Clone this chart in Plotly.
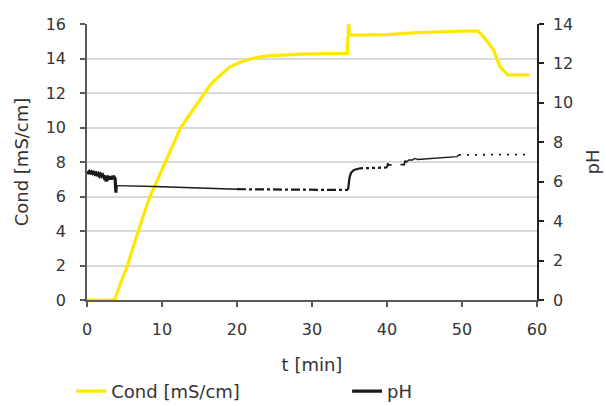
import plotly.graph_objects as go

# Conductivity readings: time [min] and conductivity [mS/cm]
cond_t = [0, 3.7, 4.5, 5.4, 6.1, 6.8, 7.6, 8.4, 9.4, 10.5, 11.5, 12.5, 14.1,
          15.7, 16.5, 17.7, 19.0, 20.5, 22.0, 24.0, 28.4, 34.7, 34.8, 34.9,
          35.0, 35.2, 40.0, 44.0, 49.3, 52.1, 53.0, 54.2, 55.1, 56.1, 59.0]
cond_v = [0, 0, 1.0, 2.0, 3.0, 4.0, 5.0, 6.0, 7.0, 8.0, 9.0, 10.0, 11.0,
          12.0, 12.5, 13.0, 13.5, 13.8, 14.0, 14.15, 14.25, 14.3, 15.0, 16.0,
          15.4, 15.35, 15.38, 15.5, 15.58, 15.6, 15.2, 14.5, 13.5, 13.05, 13.05]

# pH readings: time [min] and pH
ph_t = [0.0, 0.15, 0.3, 0.45, 0.6, 0.75, 0.9, 1.05, 1.2, 1.35, 1.5, 1.65, 1.8,
        1.95, 2.1, 2.25, 2.4, 2.55, 2.7, 2.85, 3.0, 3.15, 3.3, 3.45, 3.6, 3.75,
        3.85, 3.9, 4.0, 6.0, 9.0, 12.0, 15.0, 20.0, 25.0, 30.0, 34.8, 34.9,
        35.0, 35.2, 35.6, 36.4, 40.0, 40.1, 40.2, 42.3, 42.4, 42.6, 42.9,
        43.4, 43.7, 44.1, 49.3, 49.6, 59.0]
ph_v = [6.40, 6.48, 6.52, 6.45, 6.50, 6.42, 6.47, 6.38, 6.44, 6.36, 6.42, 6.30,
        6.38, 6.28, 6.34, 6.22, 6.30, 6.02, 6.30, 6.18, 6.26, 6.12, 6.28, 6.20,
        6.24, 6.16, 5.45, 5.80, 5.80, 5.79, 5.76, 5.72, 5.68, 5.62, 5.60, 5.59,
        5.58, 5.90, 6.20, 6.45, 6.60, 6.68, 6.72, 6.93, 6.85, 6.87, 7.07,
        7.00, 7.10, 7.10, 7.18, 7.13, 7.27, 7.36, 7.38]

# line style of the pH record over successive time spans
ph_spans = [
    (0.0, 4.0, "solid", 2.2),
    (4.0, 20.0, "solid", 1.4),
    (20.0, 34.8, "dashdot", 2.2),
    (34.8, 36.4, "solid", 2.2),
    (36.4, 40.0, "dot", 2.2),
    (40.0, 42.4, "dash", 1.8),
    (42.4, 49.6, "solid", 1.4),
    (49.6, 59.0, "2px,6px", 1.8),
]

YELLOW = "#FFE800"
BLACK = "#1a1a1a"
FONT = "DejaVu Sans"

fig = go.Figure()
fig.add_trace(go.Scatter(x=cond_t, y=cond_v, mode="lines", name="Cond [mS/cm]",
                         line=dict(color=YELLOW, width=3.2), yaxis="y",
                         legend="legend"))

for i, (t0, t1, dash, w) in enumerate(ph_spans):
    xs = [t for t in ph_t if t0 <= t <= t1]
    ys = [v for t, v in zip(ph_t, ph_v) if t0 <= t <= t1]
    fig.add_trace(go.Scatter(x=xs, y=ys, mode="lines", name="pH",
                             legendgroup="ph", showlegend=(i == 0),
                             line=dict(color=BLACK, width=w if i else 3.2,
                                       dash=dash),
                             yaxis="y2", legend="legend2"))

tickfont = dict(family=FONT, size=16, color="#333333")
titlefont = dict(family=FONT, size=18, color="#333333")
legendfont = dict(family=FONT, size=18, color="#333333")

fig.update_layout(
    width=606, height=406,
    margin=dict(l=87, r=69, t=24, b=106, autoexpand=False),
    paper_bgcolor="white", plot_bgcolor="white",
    showlegend=True,
    legend=dict(orientation="h", x=-0.035, y=-0.264, xanchor="left",
                yanchor="top", font=legendfont),
    legend2=dict(orientation="h", x=0.578, y=-0.264, xanchor="left",
                 yanchor="top", font=legendfont),
    xaxis=dict(range=[0, 60], dtick=10, showgrid=False, zeroline=False,
               showline=True, linecolor="#595959", linewidth=1.5,
               ticks="outside", ticklen=5, tickcolor="#595959", tickwidth=1.5,
               tickfont=tickfont, ticklabelstandoff=9,
               title=dict(text="t [min]", font=titlefont, standoff=20)),
    yaxis=dict(range=[0, 16], dtick=2, showgrid=True, gridcolor="#d9d9d9",
               gridwidth=1.5, zeroline=False, showline=True,
               linecolor="#595959", linewidth=1.5,
               ticks="outside", ticklen=5, tickcolor="#595959", tickwidth=1.5,
               tickfont=tickfont, ticklabelstandoff=11,
               title=dict(text="Cond [mS/cm]", font=titlefont, standoff=12)),
    yaxis2=dict(range=[0, 14], dtick=2, overlaying="y", side="right",
                showgrid=False, zeroline=False, showline=True,
                linecolor="#222222", linewidth=1.5,
                ticks="outside", ticklen=5, tickcolor="#222222", tickwidth=1.5,
                tickfont=tickfont, ticklabelstandoff=6,
                title=dict(text="pH", font=titlefont, standoff=14)),
)

fig.write_html("out.html")
